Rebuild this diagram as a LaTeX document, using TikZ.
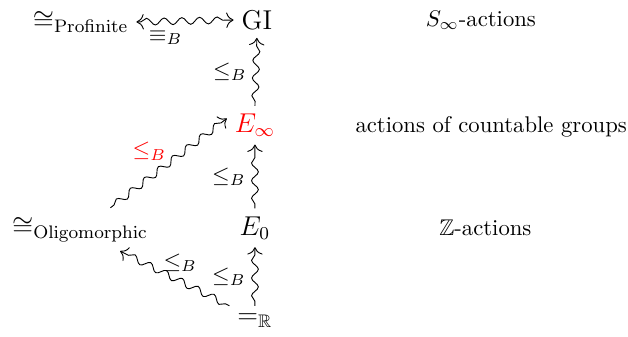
\documentclass[tikz,border=0pt]{standalone}
\usepackage{amsmath,amssymb}
\usetikzlibrary{decorations.pathmorphing,arrows.meta}
\begin{document}
\begin{tikzpicture}[>={To[scale=1.3]}]
	\tikzset{squig/.style={decorate, decoration={snake, amplitude=1.5pt, segment length=7.8pt, pre length=2pt, post length=3pt}}}
	\tikzset{rel/.style={font=\large}}
	\tikzset{lbl/.style={inner sep=1pt}}
	\useasboundingbox (0,0) rectangle (9.73,5.22);
	\node[rel] (GI) at (3.98,4.91) {GI};
	\node[rel] (prof) at (1.25,4.88) {$\cong_{\mathrm{Profinite}}$};
	\node[rel] (Einf) at (3.95,3.28) {\color{red}$E_\infty$};
	\node[rel] (E0) at (3.95,1.69) {$E_0$};
	\node[rel] (R) at (3.95,0.25) {$=_{\mathbb{R}}$};
	\node[rel] (olig) at (1.24,1.66) {$\cong_{\mathrm{Oligomorphic}}$};
	\node (sinf) at (7.45,4.91) {$S_\infty$-actions};
	\node (count) at (7.61,3.26) {actions of countable groups};
	\node (zact) at (7.52,1.69) {$\mathbb{Z}$-actions};
	\coordinate (olitop) at (1.71,2.0);
	\coordinate (olibot) at (1.86,1.33);
	\draw[squig,<->] (prof.east) -- (GI.west) node[lbl, pos=0.3, below=3pt] {$\equiv_B$};
	\draw[squig,->] (Einf.north) -- (GI.south) node[lbl, midway, left=3pt] {$\leq_B$};
	\draw[squig,->] (E0.north) -- (Einf.south) node[lbl, midway, left=3pt] {$\leq_B$};
	\draw[squig,->] (R.north) -- (E0.south) node[lbl, midway, left=3pt] {$\leq_B$};
	\draw[squig,->] (olitop) -- ([yshift=3pt]Einf.west) node[lbl, midway, above left, text=red] {$\leq_B$};
	\draw[squig,->] (R.north west) -- (olibot) node[lbl, pos=0.45, above=3pt] {$\leq_B$};
\end{tikzpicture}
\end{document}
